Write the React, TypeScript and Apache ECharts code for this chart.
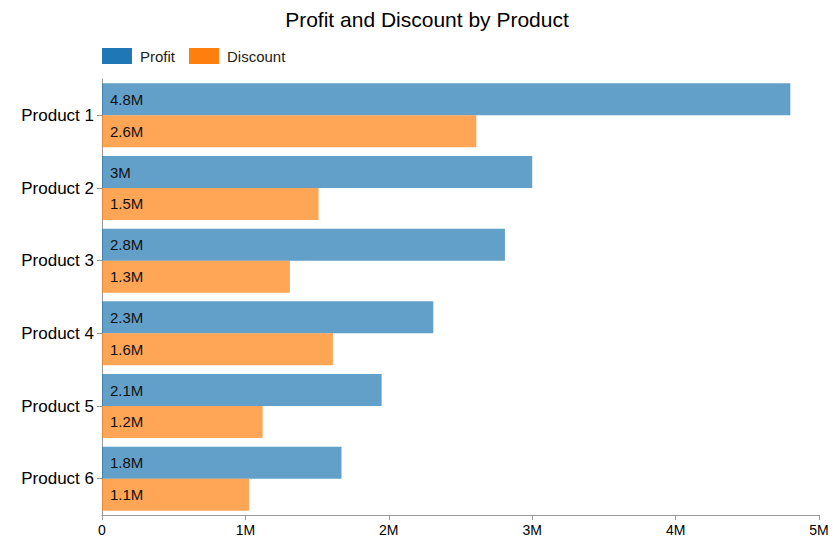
import React, { useEffect, useRef } from "react";
import * as echarts from "echarts";

const categories = ["Product 1", "Product 2", "Product 3", "Product 4", "Product 5", "Product 6"];
const profitValues = [4800000, 3000000, 2810000, 2310000, 1950000, 1670000];
const discountValues = [2610000, 1510000, 1310000, 1610000, 1120000, 1025000];
const profitLabels = ["4.8M", "3M", "2.8M", "2.3M", "2.1M", "1.8M"];
const discountLabels = ["2.6M", "1.5M", "1.3M", "1.6M", "1.2M", "1.1M"];
const xTicks = [0, 1000000, 2000000, 3000000, 4000000, 5000000];

const FONT = "'Liberation Sans', Arial, sans-serif";

export default function App() {
  const ref = useRef<HTMLDivElement>(null);
  useEffect(() => {
    if (!ref.current) return;
    const chart = echarts.init(ref.current, undefined, { renderer: "svg" });
    const fmtTick = (v: number) => (v === 0 ? "0" : v / 1000000 + "M");
    chart.setOption({
      animation: false,
      textStyle: { fontFamily: FONT },
      title: {
        text: "Profit and Discount by Product",
        left: 422,
        textAlign: "center",
        top: 4,
        textStyle: { fontFamily: FONT, fontSize: 21, fontWeight: "normal", color: "#000" },
      },
      legend: {
        left: 97,
        top: 43,
        itemWidth: 30,
        itemHeight: 16,
        itemGap: 14,
        icon: "rect",
        textStyle: { fontFamily: FONT, fontSize: 15, color: "#222", padding: [0, 0, 0, 3] },
        data: [
          { name: "Profit", itemStyle: { color: "#1f77b4" } },
          { name: "Discount", itemStyle: { color: "#ff7f0e" } },
        ],
      },
      grid: { left: 102, right: 14, top: 79, bottom: 28, containLabel: false },
      xAxis: {
        type: "value",
        min: 0,
        max: xTicks[xTicks.length - 1],
        interval: xTicks[1] - xTicks[0],
        axisLine: { show: true, lineStyle: { color: "#999" } },
        axisTick: { show: true, length: 5, lineStyle: { color: "#999" } },
        splitLine: { show: false },
        axisLabel: { formatter: fmtTick, fontFamily: FONT, fontSize: 14, color: "#000", margin: 8 },
      },
      yAxis: {
        type: "category",
        data: categories,
        inverse: true,
        axisLine: { show: true, lineStyle: { color: "#999" } },
        axisTick: { show: true, alignWithLabel: true, length: 5, lineStyle: { color: "#999" } },
        axisLabel: { fontFamily: FONT, fontSize: 17, color: "#000", margin: 8 },
      },
      series: [
        {
          name: "Profit",
          type: "bar",
          data: profitValues,
          barGap: "0%",
          barCategoryGap: "12%",
          itemStyle: { color: "rgba(31,119,180,0.7)" },
          label: {
            show: true,
            position: "insideLeft",
            distance: 8,
            formatter: (p: any) => profitLabels[p.dataIndex],
            fontFamily: FONT,
            fontSize: 15,
            color: "#111",
          },
        },
        {
          name: "Discount",
          type: "bar",
          data: discountValues,
          barGap: "0%",
          barCategoryGap: "12%",
          itemStyle: { color: "rgba(255,127,14,0.7)" },
          label: {
            show: true,
            position: "insideLeft",
            distance: 8,
            formatter: (p: any) => discountLabels[p.dataIndex],
            fontFamily: FONT,
            fontSize: 15,
            color: "#111",
          },
        },
      ],
    });
    return () => chart.dispose();
  }, []);
  return (
    <div
      ref={ref}
      style={{ position: "absolute", left: 0, top: 0, width: 833, height: 543, background: "#fff" }}
    />
  );
}
